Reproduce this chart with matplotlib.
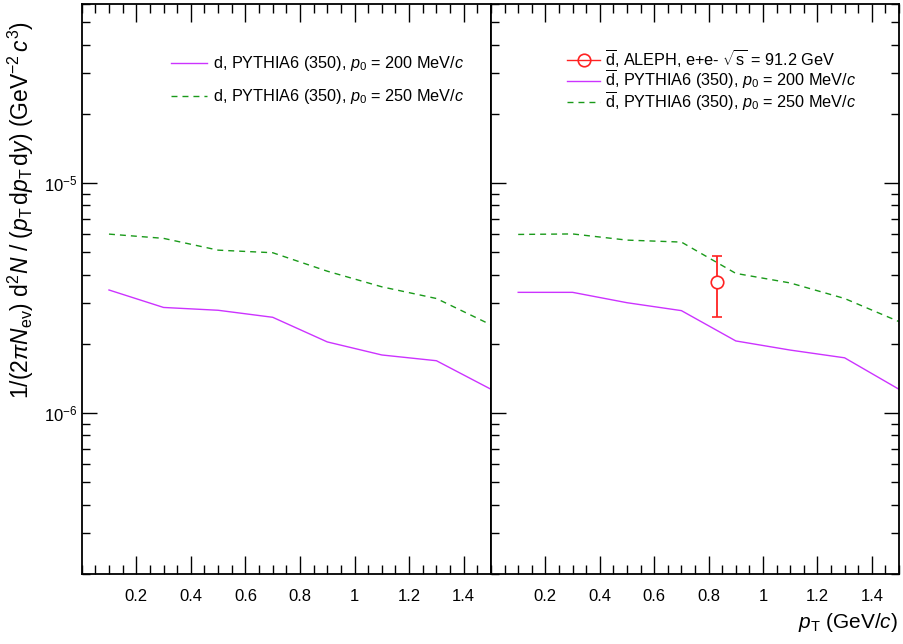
import matplotlib
matplotlib.use("Agg")
import matplotlib.pyplot as plt
from matplotlib.lines import Line2D
from matplotlib.ticker import MultipleLocator, LogLocator, NullFormatter

plt.rcParams['font.family'] = ['Liberation Sans', 'DejaVu Sans']
plt.rcParams['mathtext.fontset'] = 'custom'
plt.rcParams['mathtext.rm'] = 'Liberation Sans'
plt.rcParams['mathtext.it'] = 'Liberation Sans:italic'
plt.rcParams['mathtext.bf'] = 'Liberation Sans:bold'

# ---- data ----
pt = [0.1, 0.3, 0.5, 0.7, 0.9, 1.1, 1.3, 1.5]
d_p200 = [3.43e-6, 2.88e-6, 2.80e-6, 2.61e-6, 2.04e-6, 1.79e-6, 1.69e-6, 1.27e-6]
d_p250 = [6.00e-6, 5.75e-6, 5.11e-6, 4.98e-6, 4.14e-6, 3.54e-6, 3.15e-6, 2.42e-6]
dbar_p200 = [3.35e-6, 3.35e-6, 3.02e-6, 2.79e-6, 2.06e-6, 1.88e-6, 1.74e-6, 1.27e-6]
dbar_p250 = [5.98e-6, 6.01e-6, 5.65e-6, 5.54e-6, 4.05e-6, 3.68e-6, 3.15e-6, 2.50e-6]
aleph_pt = [0.83]
aleph_val = [3.72e-6]
aleph_err_lo = [1.11e-6]
aleph_err_hi = [1.11e-6]
xtick_vals = [0.2, 0.4, 0.6, 0.8, 1.0, 1.2, 1.4]
xtick_labels = ["0.2", "0.4", "0.6", "0.8", "1", "1.2", "1.4"]

lab_d200 = r"d, PYTHIA6 (350), $p_{0}$ = 200 MeV/$c$"
lab_d250 = r"d, PYTHIA6 (350), $p_{0}$ = 250 MeV/$c$"
lab_aleph = r"$\overline{\mathrm{d}}$, ALEPH, e+e- $\sqrt{\mathrm{s}}$ = 91.2 GeV"
lab_db200 = r"$\overline{\mathrm{d}}$, PYTHIA6 (350), $p_{0}$ = 200 MeV/$c$"
lab_db250 = r"$\overline{\mathrm{d}}$, PYTHIA6 (350), $p_{0}$ = 250 MeV/$c$"

MAG = '#cc33ff'
GRN = '#1a9a1a'
RED = '#ff2222'
DASH = (0, (4.3, 3.6))
FS = 12
LFS = 11.7

fig = plt.figure(figsize=(9.04, 6.44), dpi=100)
W, H = 904, 644
top, bot = 4, 574
axL = fig.add_axes([81.7 / W, 1 - bot / H, (491 - 81.7) / W, (bot - top) / H])
axR = fig.add_axes([491 / W, 1 - bot / H, (899 - 491) / W, (bot - top) / H])

for ax in (axL, axR):
    ax.set_yscale('log')
    ax.set_xlim(0, 1.5)
    ax.set_ylim(2e-7, 6e-5)
    ax.set_xticks(xtick_vals)
    ax.set_xticklabels(xtick_labels)
    ax.xaxis.set_minor_locator(MultipleLocator(0.05))
    ax.yaxis.set_major_locator(LogLocator(base=10, numticks=10))
    ax.yaxis.set_minor_locator(LogLocator(base=10, subs=range(2, 10), numticks=20))
    ax.yaxis.set_minor_formatter(NullFormatter())
    ax.tick_params(axis='x', which='major', direction='in', length=13, width=1.0,
                   top=True, bottom=True, labelsize=FS, pad=10.5)
    ax.tick_params(axis='x', which='minor', direction='in', length=6.5, width=1.0,
                   top=True, bottom=True)
    ax.tick_params(axis='y', which='major', direction='in', length=11, width=1.0,
                   labelsize=FS, pad=3)
    ax.tick_params(axis='y', which='minor', direction='in', length=5.5, width=1.0)
    for s in ax.spines.values():
        s.set_linewidth(1.3)

axL.tick_params(axis='y', which='both', left=True, right=False)
axR.tick_params(axis='y', which='both', left=True, right=True, labelleft=False)

# left panel
lL1, = axL.plot(pt, d_p200, color=MAG, lw=1.0, label=lab_d200)
lL2, = axL.plot(pt, d_p250, color=GRN, lw=1.0, ls=DASH, label=lab_d250)
axL.legend(handles=[lL1, lL2], loc='center left', bbox_to_anchor=(0.218, 0.866),
           frameon=False, fontsize=LFS, handlelength=2.2, handletextpad=0.37,
           labelspacing=0.85, borderpad=0, borderaxespad=0)

# right panel
lR1, = axR.plot(pt, dbar_p200, color=MAG, lw=1.0, label=lab_db200)
lR2, = axR.plot(pt, dbar_p250, color=GRN, lw=1.0, ls=DASH, label=lab_db250)
axR.errorbar(aleph_pt, aleph_val, yerr=[aleph_err_lo, aleph_err_hi], fmt='o',
             mfc='white', mec=RED, ecolor=RED, color=RED, ms=9, mew=1.2,
             elinewidth=1.3, capsize=3.5, capthick=1.3, zorder=5)
h_aleph = Line2D([], [], color=RED, lw=1.0, marker='o', mfc='none', mec=RED, ms=9, mew=1.2)
axR.legend(handles=[h_aleph, lR1, lR2], labels=[lab_aleph, lab_db200, lab_db250],
           loc='center left', bbox_to_anchor=(0.186, 0.866),
           frameon=False, fontsize=LFS, handlelength=2.05, handletextpad=0.31,
           labelspacing=-0.1, borderpad=0, borderaxespad=0)

fig.text(21 / W, 1 - 210 / H,
         r"1/(2$\pi$$N_{\mathrm{ev}}$) d$^{2}$$N$ / ($p_{\mathrm{T}}\,$d$p_{\mathrm{T}}\,$d$y$) (GeV$^{-2}\,c^{3}$)",
         rotation=90, ha='center', va='center', fontsize=16.5)
fig.text(898 / W, 1 - 622 / H, r"$p_{\mathrm{T}}$ (GeV/$c$)",
         ha='right', va='center', fontsize=15)

fig.savefig("out.png", dpi=100)
